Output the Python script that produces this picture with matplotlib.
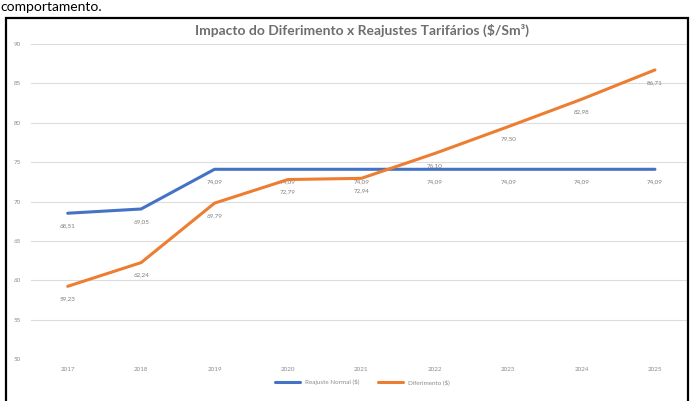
#!/usr/bin/env python3
"""Impacto do diferimento x reajustes tarifarios - line chart."""
import matplotlib
matplotlib.use("Agg")
import matplotlib.pyplot as plt
from matplotlib.patches import Rectangle

years = ["2017", "2018", "2019", "2020", "2021", "2022", "2023", "2024", "2025"]
reajuste_normal = [68.51, 69.05, 74.09, 74.09, 74.09, 74.09, 74.09, 74.09, 74.09]
diferimento = [59.23, 62.24, 69.79, 72.79, 72.94, 76.10, 79.50, 82.98, 86.71]
y_ticks = [50, 55, 60, 65, 70, 75, 80, 85, 90]

label_blue = "Reajuste Normal ($)"
label_orange = "Diferimento ($)"
title = "Impacto do Diferimento x Reajustes Tarifários ($/Sm³)"

BLUE = "#4472C4"
ORANGE = "#ED7D31"
GRID = "#DCDCDC"
TICK = "#8C8C8C"

plt.rcParams["font.family"] = ["Lato", "DejaVu Sans"]

W, H = 692, 401
fig = plt.figure(figsize=(W / 100, H / 100), dpi=100)

# piece of document text above the pasted chart
fig.text(0.0, 1 - 7 / H, "comportamento.", fontsize=10, color="black",
         ha="left", va="center")

# black frame of the pasted picture
fig.patches.append(Rectangle((6 / W, -0.01), (688 - 6) / W, (H - 18) / H + 0.01,
                             transform=fig.transFigure, fill=False,
                             edgecolor="black", lw=1.6, zorder=5))

ax = fig.add_axes([31 / W, 1 - 359 / H, (688 - 31) / W, (359 - 44) / H])
x = list(range(len(years)))

ax.plot(x, reajuste_normal, color=BLUE, lw=2.2, label=label_blue,
        solid_capstyle="round", zorder=3)
ax.plot(x, diferimento, color=ORANGE, lw=2.2, label=label_orange,
        solid_capstyle="round", zorder=4)

for xi, v in zip(x, reajuste_normal):
    ax.annotate(f"{v:.2f}".replace(".", ","), (xi, v), xytext=(0, -9),
                textcoords="offset points", ha="center", va="center",
                fontsize=4.5, color="#7F7F7F")
for xi, v in zip(x, diferimento):
    ax.annotate(f"{v:.2f}".replace(".", ","), (xi, v), xytext=(0, -9),
                textcoords="offset points", ha="center", va="center",
                fontsize=4.5, color="#7F7F7F")

ax.set_xlim(-0.5, 8.45)
ax.set_ylim(50, 90)
ax.set_yticks(y_ticks)
ax.set_xticks(x)
ax.set_xticklabels(years)
ax.yaxis.grid(True, color=GRID, lw=0.8)
ax.set_axisbelow(True)
for s in ax.spines.values():
    s.set_visible(False)
ax.tick_params(axis="both", length=0, labelsize=4.5, colors=TICK)
ax.tick_params(axis="y", pad=7)
ax.tick_params(axis="x", pad=6)

fig.text(362 / W, 1 - 30 / H, title, ha="center", va="center",
         fontsize=10, color="#6E6E6E", fontweight="bold")

fig.legend(loc="center", bbox_to_anchor=(362 / W, 1 - 382 / H), ncol=2,
           frameon=False, fontsize=4.5, labelcolor=TICK, handlelength=4,
           columnspacing=3)

fig.savefig("out.png", dpi=100)
